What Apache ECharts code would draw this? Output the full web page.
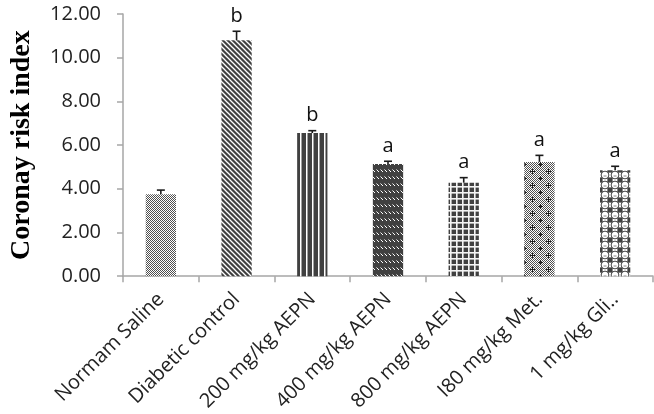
<!DOCTYPE html>
<html>
<head>
<meta charset="utf-8">
<script src="https://cdn.jsdelivr.net/npm/echarts@6/dist/echarts.min.js"></script>
<style>
html,body{margin:0;padding:0;background:#fff;}
#chart{width:654px;height:414px;}
</style>
</head>
<body>
<div id="chart"></div>
<script>
// ---- data ----
const categories = ['Normam Saline', 'Diabetic control', '200 mg/kg AEPN', '400 mg/kg AEPN', '800 mg/kg AEPN', 'I80 mg/kg Met.', '1 mg/kg Gli..'];
const values = [3.75, 10.80, 6.55, 5.14, 4.28, 5.23, 4.85];
const errors = [0.19, 0.41, 0.11, 0.12, 0.23, 0.30, 0.18];
const letters = ['', 'b', 'b', 'a', 'a', 'a', 'a'];
const yTicks = [0, 2, 4, 6, 8, 10, 12];

// ---- pattern tiles (styling only) ----
const DARK = '#404040';
function tile(w, h, draw) {
  const c = document.createElement('canvas');
  c.width = w; c.height = h;
  const ctx = c.getContext('2d');
  draw(ctx, w, h);
  return c;
}
const patChecker = tile(2, 2, (ctx) => {
  ctx.fillStyle = '#fff'; ctx.fillRect(0, 0, 2, 2);
  ctx.fillStyle = '#505050'; ctx.fillRect(0, 0, 1, 1); ctx.fillRect(1, 1, 1, 1);
});
const patDiag = tile(5, 5, (ctx, w, h) => {
  ctx.fillStyle = DARK; ctx.fillRect(0, 0, w, h);
  ctx.strokeStyle = '#fff'; ctx.lineWidth = 1.3;
  for (let k = -w; k <= w; k += w) {
    ctx.beginPath(); ctx.moveTo(k - 1, -1); ctx.lineTo(k + w + 1, h + 1); ctx.stroke();
  }
});
const patVert = tile(6, 2, (ctx, w, h) => {
  ctx.fillStyle = DARK; ctx.fillRect(0, 0, w, h);
  ctx.fillStyle = '#fff'; ctx.fillRect(0, 0, 1.5, h);
});
const patDash = tile(4, 7, (ctx, w, h) => {
  ctx.fillStyle = DARK; ctx.fillRect(0, 0, w, h);
  ctx.strokeStyle = '#fff'; ctx.lineWidth = 1;
  ctx.beginPath(); ctx.moveTo(0.5, 1.5); ctx.lineTo(3, 4); ctx.stroke();
});
const patGrid = tile(6, 6, (ctx, w, h) => {
  ctx.fillStyle = DARK; ctx.fillRect(0, 0, w, h);
  ctx.fillStyle = '#f4f4f4'; ctx.fillRect(0, 0, w, 1.6); ctx.fillRect(0, 0, 1.6, h);
});
const patCross = tile(16, 14, (ctx, w, h) => {
  ctx.fillStyle = '#fff'; ctx.fillRect(0, 0, w, h);
  ctx.fillStyle = '#505050';
  for (let y = 0; y < h; y++) for (let x = 0; x < w; x++) if ((x + y) % 2 === 0) ctx.fillRect(x, y, 1, 1);
  ctx.fillStyle = '#1e1e1e';
  [[4, 3], [12, 10]].forEach(([cx, cy]) => {
    ctx.fillRect(cx - 2, cy, 5, 1); ctx.fillRect(cx, cy - 2, 1, 5);
  });
});
const patCircle = tile(10, 10, (ctx, w, h) => {
  ctx.fillStyle = '#fff'; ctx.fillRect(0, 0, w, h);
  ctx.fillStyle = DARK;
  [[0, 0], [10, 0], [0, 10], [10, 10]].forEach(([cx, cy]) => { ctx.fillRect(cx - 2.6, cy - 2.6, 5.2, 5.2); });
  ctx.strokeStyle = DARK; ctx.lineWidth = 1;
  ctx.beginPath(); ctx.arc(5, 5, 3.9, 0, Math.PI * 2); ctx.stroke();
  ctx.fillStyle = '#888'; ctx.fillRect(3.5, 5.5, 3, 1);
});
const patterns = [patChecker, patDiag, patVert, patDash, patGrid, patCross, patCircle];

const chart = echarts.init(document.getElementById('chart'), null, { renderer: 'canvas' });
const labelFont = '"Open Sans", sans-serif';
const axisColor = '#a6a6a6';

chart.setOption({
  animation: false,
  grid: { left: 107, right: 1, top: 14, bottom: 137, containLabel: false },
  xAxis: {
    type: 'category',
    data: categories,
    boundaryGap: true,
    axisLine: { lineStyle: { color: axisColor, width: 1.5 } },
    axisTick: { show: true, alignWithLabel: false, length: 6, lineStyle: { color: axisColor, width: 1.5 } },
    axisLabel: { rotate: 45, margin: 20, color: '#222', fontSize: 20, fontFamily: labelFont, interval: 0 }
  },
  yAxis: {
    type: 'value',
    min: yTicks[0],
    max: yTicks[yTicks.length - 1],
    interval: 2,
    name: 'Coronay risk index',
    nameLocation: 'middle',
    nameGap: 87,
    nameTextStyle: { fontFamily: '"Liberation Serif", "Times New Roman", serif', fontWeight: 'bold', fontSize: 28, color: '#000' },
    splitLine: { show: false },
    axisLine: { show: true, lineStyle: { color: axisColor, width: 1.5 } },
    axisTick: { show: true, length: 6, lineStyle: { color: axisColor, width: 1.5 } },
    axisLabel: { margin: 22, color: '#222', fontSize: 20, fontFamily: labelFont, formatter: (v) => v.toFixed(2) }
  },
  series: [
    {
      type: 'bar',
      barWidth: '40%',
      data: values.map((v, i) => ({ value: v, itemStyle: { color: { image: patterns[i], repeat: 'repeat' } } })),
      z: 2
    },
    {
      type: 'custom',
      z: 3,
      encode: { x: 0, y: 1 },
      data: values.map((v, i) => [i, v, errors[i]]),
      renderItem: function (params, api) {
        const i = api.value(0), v = api.value(1), e = api.value(2);
        const base = api.coord([i, v]);
        const top = api.coord([i, v + e]);
        const hw = 4;
        const st = { stroke: '#1a1a1a', lineWidth: 1.6 };
        return {
          type: 'group',
          children: [
            { type: 'line', shape: { x1: base[0], y1: base[1], x2: top[0], y2: top[1] }, style: st },
            { type: 'line', shape: { x1: top[0] - hw, y1: top[1], x2: top[0] + hw, y2: top[1] }, style: st },
            { type: 'text', x: top[0], y: top[1] - 5, style: { text: letters[params.dataIndex], fill: '#111', fontSize: 20, fontFamily: labelFont, align: 'center', verticalAlign: 'bottom' } }
          ]
        };
      }
    }
  ]
});
</script>
</body>
</html>
